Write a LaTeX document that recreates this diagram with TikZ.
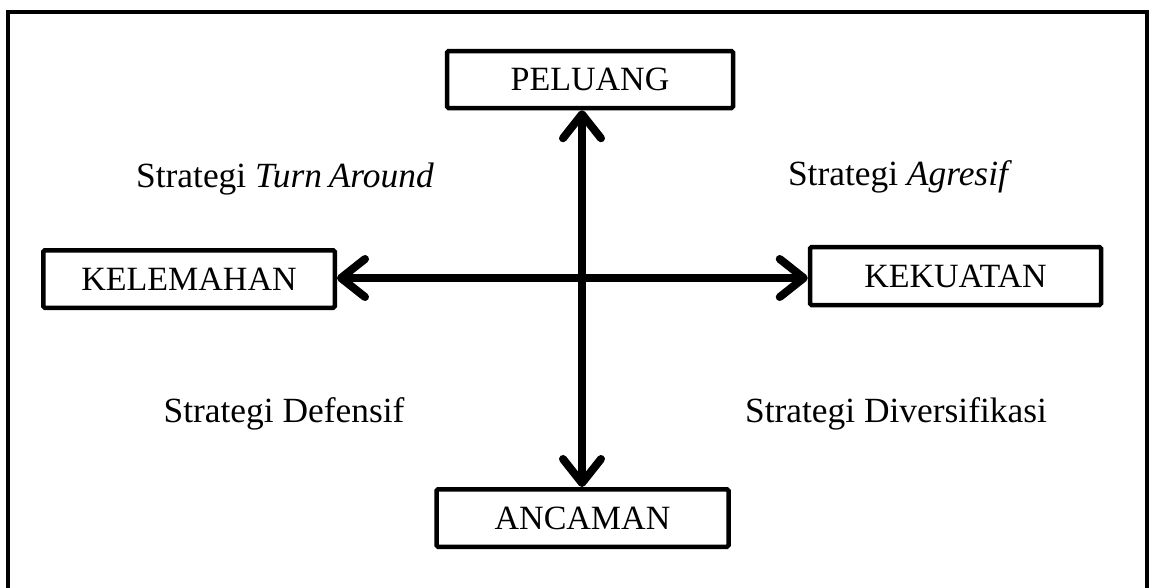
\documentclass[tikz,border=0pt]{standalone}
\usepackage{fontspec}
\setmainfont{Liberation Serif}
\usetikzlibrary{arrows.meta}
\begin{document}
\begin{tikzpicture}[x=1pt,y=-1pt,
  factorbox/.style={draw, line width=4.5pt, rounded corners=1.5pt, inner sep=0pt,
    font=\fontsize{34}{40}\selectfont},
  barb/.tip={Straight Barb[length=24pt,width=38pt,line cap=round,line join=round]},
  axisarrow/.style={line width=8pt, {barb}-{barb}},
  quadlabel/.style={anchor=base, inner sep=0pt, font=\fontsize{35.4}{42}\selectfont}]
  \useasboundingbox (0,0) rectangle (1149,587);
  % open frame, its lower edge runs off the page
  \draw[line width=4pt] (8,600) -- (8,12) -- (1147,12) -- (1147,600);

  % the four factor boxes
  \node[factorbox, minimum width=286pt, minimum height=57pt] (pel) at (590,79.5) {PELUANG};
  \node[factorbox, minimum width=291.5pt, minimum height=57.5pt] (kel) at (189,279) {KELEMAHAN};
  \node[factorbox, minimum width=291pt, minimum height=58pt] (kek) at (955.5,276) {KEKUATAN};
  \node[factorbox, minimum width=292pt, minimum height=57.5pt] (anc) at (582.5,518) {ANCAMAN};

  % crossing axes
  \coordinate (vx) at (582,0);
  \coordinate (hy) at (0,278);
  \draw[axisarrow] (vx |- pel.south) -- (vx |- anc.north);
  \draw[axisarrow] (kel.east |- hy) -- (kek.west |- hy);

  % quadrant labels
  \node[quadlabel] (q1) at (285,187) {Strategi \textit{Turn\hspace{-2pt} Around}};
  \node[quadlabel] (q2) at (900,185) {Strategi \textit{Agresif}};
  \node[quadlabel] (q3) at (284,422) {Strategi Defensif};
  \node[quadlabel] (q4) at (896,422) {Strategi Diversifikasi};
\end{tikzpicture}
\end{document}
